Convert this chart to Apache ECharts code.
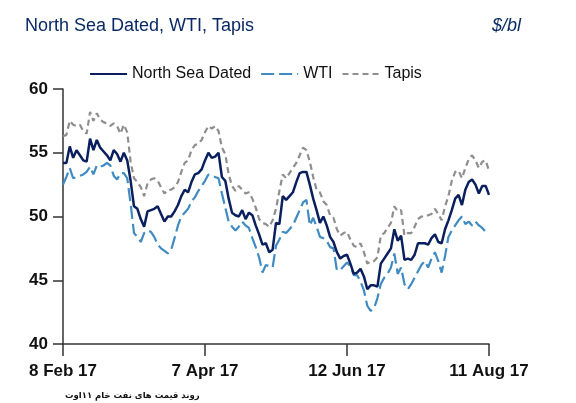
<!DOCTYPE html>
<html>
<head>
<meta charset="utf-8">
<script src="https://cdn.jsdelivr.net/npm/echarts@6/dist/echarts.min.js"></script>
<style>
  html, body { margin: 0; padding: 0; background: #fff; }
  #chart { width: 576px; height: 403px; }
</style>
</head>
<body>
<div id="chart"></div>
<script>
// Tick labels at every 42nd trading day
const tickLabels = ['8 Feb 17', '7 Apr 17', '12 Jun 17', '11 Aug 17'];
const tickStep = 42;

const northSeaDated = [
  54.2,54.2,55.5,54.6,55.2,54.8,54.4,54.3,56.1,55.2,
  56.0,55.4,55.1,54.8,54.4,55.2,54.9,54.3,55.0,54.4,
  52.8,50.8,50.6,49.8,49.2,50.4,50.5,50.6,50.8,50.2,
  49.6,50.0,50.0,50.4,50.9,51.6,52.1,51.9,52.7,53.3,
  53.4,53.7,54.4,55.0,54.6,54.7,55.0,53.1,52.8,51.4,
  50.3,50.1,50.0,50.5,49.8,50.3,50.1,49.3,48.6,47.8,
  47.9,47.2,47.4,49.5,49.4,51.6,51.3,51.6,51.9,52.7,
  53.4,53.5,53.5,52.5,51.4,50.5,49.5,50.0,49.3,48.4,
  48.0,47.2,46.7,46.9,47.0,46.3,45.5,45.6,45.9,45.3,
  44.3,44.6,44.6,44.5,46.3,46.7,47.1,47.5,49.0,48.1,
  48.5,46.6,46.7,46.6,47.0,47.9,47.9,47.9,47.8,48.3,
  48.6,48.0,47.9,49.0,49.7,50.5,51.4,51.7,50.9,52.1,
  52.7,52.9,52.5,51.8,52.4,52.4,51.7
];

const wti = [
  52.5,53.1,53.8,53.0,53.1,53.2,53.3,53.5,53.9,53.3,
  54.0,53.9,54.0,54.2,54.0,53.2,52.9,53.4,53.4,53.0,
  51.0,48.7,48.4,48.0,48.7,48.9,48.8,48.4,47.8,47.5,
  47.3,47.1,47.4,48.3,49.3,50.0,50.3,50.6,51.2,51.5,
  52.0,52.4,52.8,53.3,53.2,53.1,53.0,51.8,50.7,49.6,
  49.2,48.9,49.2,49.6,49.3,49.1,48.3,47.6,46.8,45.6,
  46.2,46.1,46.0,47.7,48.2,48.8,48.7,49.0,49.3,49.9,
  50.5,51.1,51.3,49.3,49.9,49.2,48.4,48.3,48.1,47.6,
  47.5,45.8,45.8,46.1,46.4,46.1,45.4,45.4,44.9,44.2,
  43.0,42.6,42.8,43.6,44.7,45.2,45.5,46.0,47.1,45.5,
  46.0,44.7,44.3,44.7,45.2,45.7,46.2,46.5,46.0,46.7,
  47.2,46.5,45.6,46.9,48.4,48.9,49.3,49.7,50.0,49.4,
  49.6,49.3,49.6,49.3,49.1,48.8,48.7
];

const tapis = [
  56.3,56.4,57.5,57.2,57.1,57.2,56.7,56.5,58.2,57.5,
  58.1,57.6,57.4,57.3,57.1,57.3,57.1,56.5,57.2,56.6,
  54.3,53.0,52.7,52.3,51.6,52.6,52.9,53.0,52.8,52.3,
  51.8,52.1,52.1,52.3,52.7,53.5,54.2,54.4,55.2,55.6,
  55.7,56.0,56.6,57.1,56.9,57.1,56.7,55.4,54.9,53.3,
  52.4,52.0,52.4,52.1,51.8,51.9,51.4,50.7,49.8,49.5,
  49.4,49.2,49.7,50.6,52.0,53.3,53.0,53.4,53.8,54.2,
  54.8,55.4,55.2,54.3,53.1,52.1,51.9,51.2,50.9,50.1,
  49.9,49.0,48.5,48.7,48.8,48.2,47.7,47.6,47.9,47.2,
  46.3,46.5,46.5,46.8,48.5,48.7,49.1,49.5,50.8,50.4,
  50.5,48.5,48.7,48.7,49.2,49.8,50.0,50.0,50.1,50.2,
  50.6,50.2,49.7,50.8,51.6,52.8,53.5,53.6,53.0,53.8,
  54.5,54.8,54.4,53.8,54.3,54.4,53.6
];

const categories = northSeaDated.map((_, i) => String(i));

const chart = echarts.init(document.getElementById('chart'), null, { renderer: 'canvas' });
const isTick = (i) => i % tickStep === 0;

chart.setOption({
  animation: false,
  backgroundColor: '#ffffff',
  title: [
    { text: 'North Sea Dated, WTI, Tapis', left: 20, top: 12,
      textStyle: { fontFamily: 'Liberation Sans', fontSize: 18, fontWeight: 'normal', color: '#0a2a66' } },
    { text: '$/bl', left: 487, top: 12,
      textStyle: { fontFamily: 'Liberation Sans', fontSize: 18, fontStyle: 'italic', fontWeight: 'normal', color: '#0a2a66' } },
    { text: 'روند قیمت های نفت خام ۱۱اوت', left: 60, top: 386,
      textStyle: { fontFamily: 'DejaVu Sans', fontSize: 8.5, fontWeight: 'bold', color: '#111' } }
  ],
  legend: {
    left: 84, top: 61,
    itemWidth: 37, itemHeight: 14, itemGap: 9,
    itemStyle: { opacity: 0 },
    textStyle: { fontFamily: 'Liberation Sans', fontSize: 16, color: '#111' },
    data: ['North Sea Dated', 'WTI', 'Tapis']
  },
  grid: { left: 63, right: 87, top: 89, bottom: 59, containLabel: false },
  xAxis: {
    type: 'category',
    boundaryGap: false,
    data: categories,
    axisLine: { lineStyle: { color: '#333', width: 1.5 } },
    axisTick: { show: true, length: 12, interval: (i) => isTick(i), lineStyle: { color: '#333', width: 1.5 } },
    axisLabel: {
      interval: (i) => isTick(i),
      formatter: (v, i) => tickLabels[i / tickStep] || '',
      margin: 19, color: '#111',
      fontFamily: 'Liberation Sans', fontSize: 17, fontWeight: 'bold'
    },
    splitLine: { show: false }
  },
  yAxis: {
    type: 'value',
    min: 40, max: 60, interval: 5,
    axisLine: { show: true, lineStyle: { color: '#333', width: 1.5 } },
    axisTick: { show: true, length: 10, lineStyle: { color: '#333', width: 1.5 } },
    axisLabel: { margin: 15, color: '#111', fontFamily: 'Liberation Sans', fontSize: 17, fontWeight: 'bold' },
    splitLine: { show: false }
  },
  series: [
    { name: 'North Sea Dated', type: 'line', data: northSeaDated, symbol: 'none',
      lineStyle: { color: '#0a1f5e', width: 2.5 }, itemStyle: { color: '#0a1f5e' }, z: 3 },
    { name: 'WTI', type: 'line', data: wti, symbol: 'none',
      lineStyle: { color: '#3f8bc2', width: 2.2, type: [13, 5] }, itemStyle: { color: '#3f8bc2' }, z: 2 },
    { name: 'Tapis', type: 'line', data: tapis, symbol: 'none',
      lineStyle: { color: '#8e8e8e', width: 2.2, type: [6, 4] }, itemStyle: { color: '#8e8e8e' }, z: 1 }
  ]
});
</script>
</body>
</html>
